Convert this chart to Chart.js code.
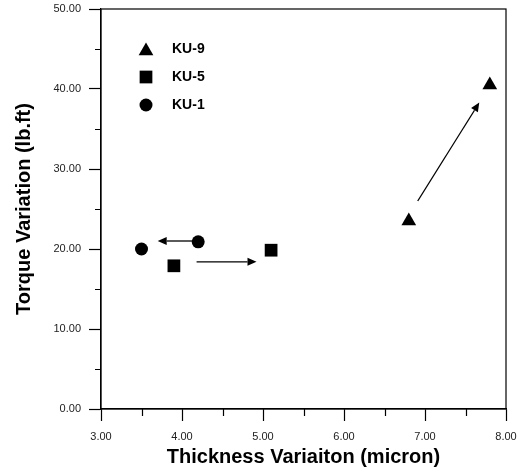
<!DOCTYPE html>
<html>
<head>
<meta charset="utf-8">
<script src="https://cdn.jsdelivr.net/npm/chart.js@4.4.1/dist/chart.umd.min.js"></script>
<style>
  html, body { margin: 0; padding: 0; background: #fff; }
</style>
</head>
<body>
<canvas id="grafico" width="531" height="473"></canvas>
<script>
// series
const nomes = ['KU-9', 'KU-5', 'KU-1'];
const ku9X = [6.8, 7.8];
const ku9Y = [23.5, 40.5];
const ku5X = [3.9, 5.1];
const ku5Y = [17.9, 19.85];
const ku1X = [3.5, 4.2];
const ku1Y = [20.0, 20.9];

// arrows: from -> to, in data units
const setaDeX = [6.91, 4.14, 4.18];
const setaDeY = [26.0, 21.0, 18.4];
const setaAteX = [7.67, 3.70, 4.92];
const setaAteY = [38.3, 21.0, 18.4];

// ticks
const minorX = [3.5, 4.5, 5.5, 6.5, 7.5];
const minorY = [5, 15, 25, 35, 45];

const tituloX = 'Thickness Variaiton (micron)';
const tituloY = 'Torque Variation (lb.ft)';

function pontos(xs, ys) {
    return xs.map((x, i) => ({ x: x, y: ys[i] }));
}

const moldura = {
    id: 'moldura',
    afterDraw(chart) {
        const { ctx, chartArea: a, scales: { x, y } } = chart;
        ctx.save();
        ctx.strokeStyle = '#000';
        ctx.lineWidth = 1.2;
        ctx.strokeRect(a.left, a.top, a.right - a.left, a.bottom - a.top);

        // minor ticks
        ctx.beginPath();
        minorX.forEach(v => {
            const px = Math.round(x.getPixelForValue(v)) + 0.5;
            ctx.moveTo(px, a.bottom);
            ctx.lineTo(px, a.bottom + 7);
        });
        minorY.forEach(v => {
            const py = Math.round(y.getPixelForValue(v)) + 0.5;
            ctx.moveTo(a.left, py);
            ctx.lineTo(a.left - 6, py);
        });
        ctx.stroke();

        // arrows
        ctx.fillStyle = '#000';
        ctx.lineWidth = 1.3;
        setaDeX.forEach((_, i) => {
            const x0 = x.getPixelForValue(setaDeX[i]);
            const y0 = y.getPixelForValue(setaDeY[i]);
            const x1 = x.getPixelForValue(setaAteX[i]);
            const y1 = y.getPixelForValue(setaAteY[i]);
            const ang = Math.atan2(y1 - y0, x1 - x0);
            const L = 9, W = 4;
            const bx = x1 - L * Math.cos(ang);
            const by = y1 - L * Math.sin(ang);
            ctx.beginPath();
            ctx.moveTo(x0, y0);
            ctx.lineTo(bx, by);
            ctx.stroke();
            ctx.beginPath();
            ctx.moveTo(x1, y1);
            ctx.lineTo(bx + W * Math.sin(ang), by - W * Math.cos(ang));
            ctx.lineTo(bx - W * Math.sin(ang), by + W * Math.cos(ang));
            ctx.closePath();
            ctx.fill();
        });

        // legend inside the plot
        ctx.font = 'bold 14px Arial, "Liberation Sans", sans-serif';
        ctx.textBaseline = 'middle';
        ctx.textAlign = 'left';
        chart.data.datasets.forEach((ds, i) => {
            const ly = a.top + 40 + i * 28;
            const lx = a.left + 45;
            const off = ds.pointStyle === 'triangle' ? 2 : 0;
            Chart.helpers.drawPoint(ctx, {
                pointStyle: ds.pointStyle,
                radius: ds.pointRadius,
                rotation: 0,
                borderWidth: 0
            }, lx, ly + off);
            ctx.fillText(ds.label, a.left + 71, ly);
        });
        ctx.restore();
    }
};

const fonteTick = { family: 'Arial, "Liberation Sans", sans-serif', size: 11 };
const fonteTitulo = { family: 'Arial, "Liberation Sans", sans-serif', size: 20, weight: 'bold' };

const ctx = document.getElementById('grafico').getContext('2d');
const grafico = new Chart(ctx, {
    type: 'scatter',
    data: {
        datasets: [{
            label: nomes[0],
            data: pontos(ku9X, ku9Y),
            pointStyle: 'triangle',
            pointRadius: 8.5,
            backgroundColor: '#000',
            borderColor: '#000',
            borderWidth: 0
        }, {
            label: nomes[1],
            data: pontos(ku5X, ku5Y),
            pointStyle: 'rect',
            pointRadius: 9,
            backgroundColor: '#000',
            borderColor: '#000',
            borderWidth: 0
        }, {
            label: nomes[2],
            data: pontos(ku1X, ku1Y),
            pointStyle: 'circle',
            pointRadius: 6.5,
            backgroundColor: '#000',
            borderColor: '#000',
            borderWidth: 0
        }]
    },
    options: {
        responsive: false,
        animation: false,
        devicePixelRatio: 1,
        layout: { padding: { top: 8, right: 25, left: 0, bottom: 0 } },
        plugins: {
            legend: { display: false },
            tooltip: { enabled: false }
        },
        scales: {
            x: {
                type: 'linear',
                min: 3,
                max: 8,
                afterFit: s => { s.height = 64; },
                ticks: {
                    stepSize: 1,
                    autoSkip: false,
                    maxRotation: 0,
                    padding: 9,
                    color: '#222',
                    font: fonteTick,
                    callback: v => v.toFixed(2)
                },
                grid: {
                    drawOnChartArea: false,
                    tickLength: 12,
                    tickColor: '#000',
                    tickWidth: 1.2
                },
                border: { display: true, color: '#000', width: 1.2 },
                title: {
                    display: true,
                    text: tituloX,
                    color: '#000',
                    font: fonteTitulo,
                    padding: { top: 0, bottom: 4 }
                }
            },
            y: {
                type: 'linear',
                min: 0,
                max: 50,
                afterFit: s => { s.width = 101; s.paddingTop = 0; s.paddingBottom = 0; },
                ticks: {
                    stepSize: 10,
                    padding: 8,
                    color: '#222',
                    font: fonteTick,
                    callback: v => v.toFixed(2)
                },
                grid: {
                    drawOnChartArea: false,
                    tickLength: 12,
                    tickColor: '#000',
                    tickWidth: 1.2
                },
                border: { display: true, color: '#000', width: 1.2 },
                title: {
                    display: true,
                    text: tituloY,
                    color: '#000',
                    font: fonteTitulo,
                    padding: { top: 12, bottom: 0 }
                }
            }
        }
    },
    plugins: [moldura]
});
</script>
</body>
</html>
